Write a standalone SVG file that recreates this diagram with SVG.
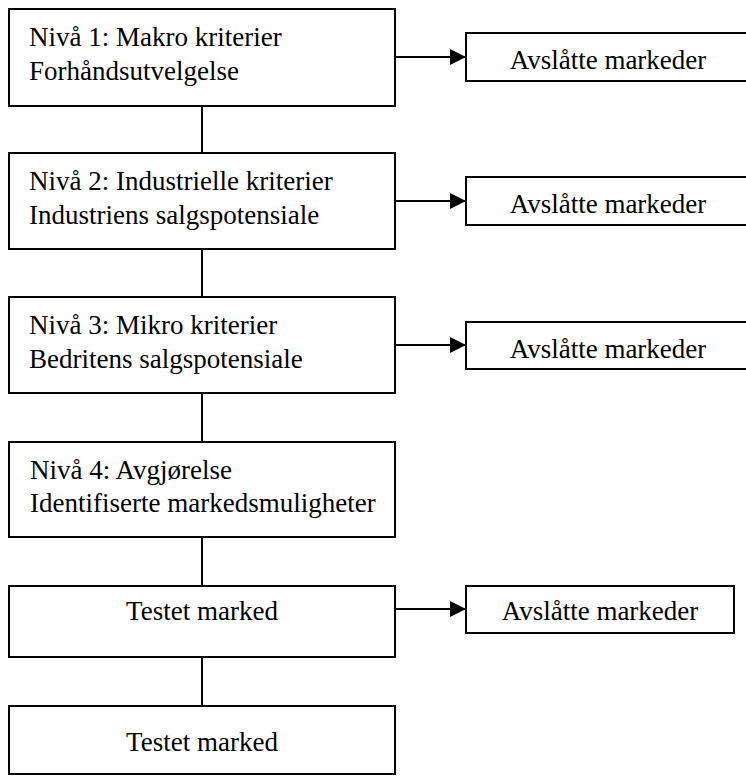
<svg xmlns="http://www.w3.org/2000/svg" width="746" height="776" viewBox="0 0 746 776">
  <style>
    .box { fill: #ffffff; stroke: #000000; stroke-width: 2; }
    .link { fill: none; stroke: #000000; stroke-width: 2; }
    text { font-family: "Liberation Serif", "Times New Roman", serif; font-size: 27px; fill: #000000; }
    .mid { text-anchor: middle; }
  </style>
  <defs>
    <marker id="arrow" viewBox="0 0 16 16" refX="16" refY="8" markerWidth="16" markerHeight="16" markerUnits="userSpaceOnUse" orient="auto">
      <path d="M0,0 L16,8 L0,16 Z" fill="#000000"/>
    </marker>
  </defs>
  <rect width="746" height="776" fill="#ffffff"/>

  <g id="connectors">
    <line class="link" x1="202" y1="106" x2="202" y2="153"/>
    <line class="link" x1="202" y1="249" x2="202" y2="297"/>
    <line class="link" x1="202" y1="393" x2="202" y2="442"/>
    <line class="link" x1="202" y1="537" x2="202" y2="586"/>
    <line class="link" x1="202" y1="657" x2="202" y2="706"/>
    <line class="link" x1="395" y1="57" x2="466" y2="57" marker-end="url(#arrow)"/>
    <line class="link" x1="395" y1="201" x2="466" y2="201" marker-end="url(#arrow)"/>
    <line class="link" x1="395" y1="345" x2="466" y2="345" marker-end="url(#arrow)"/>
    <line class="link" x1="395" y1="609" x2="466" y2="609" marker-end="url(#arrow)"/>
  </g>

  <g id="level1">
    <rect class="box" x="9" y="9" width="386" height="97"/>
    <text x="29" y="46">Nivå 1: Makro kriterier</text>
    <text x="29" y="80">Forhåndsutvelgelse</text>
  </g>
  <g id="rejected1">
    <rect class="box" x="466" y="33" width="284" height="48"/>
    <text class="mid" x="608" y="69">Avslåtte markeder</text>
  </g>

  <g id="level2">
    <rect class="box" x="9" y="153" width="386" height="96"/>
    <text x="29" y="190">Nivå 2: Industrielle kriterier</text>
    <text x="29" y="224">Industriens salgspotensiale</text>
  </g>
  <g id="rejected2">
    <rect class="box" x="466" y="177" width="284" height="48"/>
    <text class="mid" x="608" y="213">Avslåtte markeder</text>
  </g>

  <g id="level3">
    <rect class="box" x="9" y="297" width="386" height="96"/>
    <text x="29" y="334">Nivå 3: Mikro kriterier</text>
    <text x="29" y="368">Bedritens salgspotensiale</text>
  </g>
  <g id="rejected3">
    <rect class="box" x="466" y="322" width="284" height="47"/>
    <text class="mid" x="608" y="358">Avslåtte markeder</text>
  </g>

  <g id="level4">
    <rect class="box" x="9" y="442" width="386" height="95"/>
    <text x="30" y="479">Nivå 4: Avgjørelse</text>
    <text x="30" y="512">Identifiserte markedsmuligheter</text>
  </g>

  <g id="tested1">
    <rect class="box" x="9" y="586" width="386" height="71"/>
    <text class="mid" x="202" y="620">Testet marked</text>
  </g>
  <g id="rejected4">
    <rect class="box" x="466" y="586" width="268" height="47"/>
    <text class="mid" x="600" y="620">Avslåtte markeder</text>
  </g>

  <g id="tested2">
    <rect class="box" x="9" y="706" width="386" height="68"/>
    <text class="mid" x="202" y="751">Testet marked</text>
  </g>
</svg>
